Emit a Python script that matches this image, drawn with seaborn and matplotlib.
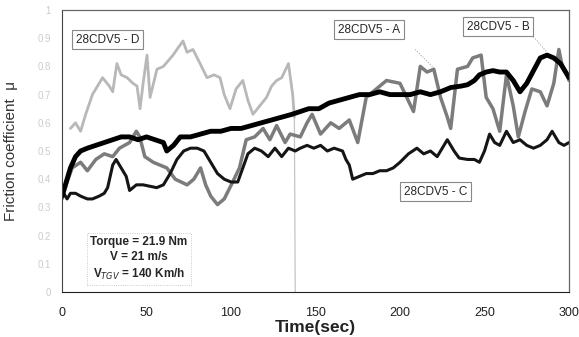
import numpy as np
import pandas as pd
import matplotlib
matplotlib.use('Agg')
import matplotlib.pyplot as plt
import seaborn as sns

# values (time in s, friction coefficient)
t_a = [0, 3, 6, 11, 15, 20, 25, 30, 34, 40, 44, 46, 49, 54, 58, 62, 67, 74, 78, 82,
       85, 88, 92, 96, 101, 105, 109, 114, 119, 123, 127, 132, 135, 141, 145, 148, 153, 159, 164, 170,
       175, 180, 186, 192, 200, 204, 208, 212, 216, 220, 224, 228, 230, 234, 240, 243, 248, 251, 255, 259,
       263, 267, 270, 274, 278, 283, 287, 291, 294, 296, 299, 300]
mu_a = [0.33, 0.39, 0.44, 0.46, 0.43, 0.47, 0.49, 0.48, 0.51, 0.53, 0.57, 0.55, 0.48, 0.46, 0.45, 0.44, 0.40, 0.38, 0.40, 0.44,
        0.38, 0.34, 0.31, 0.33, 0.39, 0.44, 0.54, 0.55, 0.58, 0.54, 0.59, 0.53, 0.56, 0.55, 0.60, 0.63, 0.56, 0.60, 0.58, 0.61,
        0.53, 0.69, 0.72, 0.75, 0.74, 0.69, 0.64, 0.80, 0.78, 0.79, 0.69, 0.62, 0.58, 0.79, 0.80, 0.83, 0.84, 0.69, 0.65, 0.57,
        0.77, 0.66, 0.55, 0.64, 0.72, 0.71, 0.66, 0.74, 0.86, 0.80, 0.77, 0.75]

t_b = [0, 2, 5, 8, 11, 15, 20, 25, 30, 35, 40, 45, 50, 55, 60, 62, 66, 70, 76, 82,
       88, 94, 100, 106, 112, 118, 124, 130, 136, 141, 146, 152, 158, 164, 170, 176, 182, 188, 194, 200,
       206, 212, 218, 224, 230, 236, 240, 244, 247, 251, 255, 259, 263, 267, 271, 275, 279, 283, 287, 291,
       295, 299, 300]
mu_b = [0.34, 0.38, 0.44, 0.48, 0.50, 0.51, 0.52, 0.53, 0.54, 0.55, 0.55, 0.54, 0.55, 0.54, 0.53, 0.50, 0.52, 0.55, 0.55, 0.56,
        0.57, 0.57, 0.58, 0.58, 0.59, 0.60, 0.61, 0.62, 0.63, 0.64, 0.65, 0.65, 0.67, 0.68, 0.69, 0.70, 0.70, 0.71, 0.70, 0.70,
        0.70, 0.71, 0.70, 0.71, 0.725, 0.73, 0.735, 0.75, 0.77, 0.78, 0.785, 0.78, 0.78, 0.75, 0.71, 0.74, 0.785, 0.83, 0.84, 0.83,
        0.81, 0.77, 0.76]

t_c = [0, 3, 5, 8, 11, 15, 18, 22, 25, 27, 30, 32, 35, 38, 40, 44, 48, 52, 56, 60,
       64, 68, 72, 76, 80, 84, 88, 92, 96, 100, 104, 107, 110, 114, 118, 122, 126, 130, 134, 138,
       141, 145, 149, 153, 157, 161, 166, 168, 170, 172, 176, 180, 184, 188, 192, 196, 200, 205, 210, 214,
       218, 222, 228, 232, 235, 240, 244, 247, 250, 253, 256, 259, 263, 267, 271, 275, 279, 283, 287, 290,
       294, 297, 300]
mu_c = [0.36, 0.33, 0.35, 0.35, 0.34, 0.33, 0.33, 0.34, 0.35, 0.37, 0.45, 0.47, 0.44, 0.41, 0.36, 0.38, 0.38, 0.375, 0.37, 0.38,
        0.42, 0.47, 0.50, 0.51, 0.51, 0.50, 0.46, 0.42, 0.40, 0.39, 0.39, 0.44, 0.49, 0.51, 0.50, 0.48, 0.51, 0.48, 0.51, 0.50,
        0.51, 0.52, 0.51, 0.52, 0.50, 0.51, 0.50, 0.47, 0.45, 0.40, 0.41, 0.42, 0.42, 0.43, 0.43, 0.44, 0.46, 0.49, 0.51, 0.49,
        0.50, 0.48, 0.54, 0.50, 0.475, 0.47, 0.47, 0.46, 0.50, 0.56, 0.53, 0.52, 0.57, 0.53, 0.54, 0.52, 0.51, 0.52, 0.54, 0.57,
        0.53, 0.52, 0.53]

t_d = [5, 8, 11, 14, 18, 24, 28, 30, 32.5, 35, 38.5, 42, 44.4, 46.2, 48, 50.3, 52.1, 56.2, 60, 65.7,
       68, 71.6, 74, 77.5, 81.7, 85.8, 90, 93.5, 96, 99.4, 103, 107, 110, 113, 117, 121, 124, 127, 130, 134,
       136.5, 137.5]
mu_d = [0.58, 0.60, 0.57, 0.63, 0.70, 0.76, 0.73, 0.71, 0.81, 0.77, 0.76, 0.74, 0.73, 0.65, 0.74, 0.84, 0.69, 0.79, 0.80, 0.84,
        0.86, 0.89, 0.85, 0.86, 0.81, 0.76, 0.77, 0.76, 0.70, 0.65, 0.72, 0.75, 0.68, 0.63, 0.66, 0.69, 0.73, 0.75, 0.76, 0.81,
        0.70, 0.62]
# D test stops: value falls to zero
t_d_stop = [137.5, 138]
mu_d_stop = [0.62, 0.0]

x_ticks = [0, 50, 100, 150, 200, 250, 300]
y_ticks = [0, 0.1, 0.2, 0.3, 0.4, 0.5, 0.6, 0.7, 0.8, 0.9, 1.0]

sns.set_style('white')
plt.rcParams['font.family'] = ['Liberation Sans', 'DejaVu Sans']

fig = plt.figure(figsize=(5.79, 3.37), dpi=100)
ax = fig.add_axes([62 / 579, 1 - 292 / 337, 507 / 579, 282 / 337])

# draw light series first, black ones on top
sns.lineplot(x=t_d_stop, y=mu_d_stop, ax=ax, color='#c4c4c4', linewidth=0.9, sort=False, estimator=None)
series = [(t_d, mu_d, '#b8b8b8', 2.0),
          (t_a, mu_a, '#7c7c7c', 2.5),
          (t_c, mu_c, '#151515', 2.2),
          (t_b, mu_b, '#000000', 3.5)]
for t, mu, col, lw in series:
    sns.lineplot(x=t, y=mu, ax=ax, color=col, linewidth=lw, sort=False, estimator=None)

ax.set_xlim(0, 300)
ax.set_ylim(0, 1.0)
ax.set_xticks(x_ticks)
ax.set_xticklabels([str(v) for v in x_ticks], fontsize=9, color='#222222')
ax.set_yticks(y_ticks)
ax.set_yticklabels(['0'] + ['%.1f' % v for v in y_ticks[1:-1]] + ['1'], fontsize=7, color='#cccccc')
ax.tick_params(axis='x', direction='in', length=3, pad=11)
ax.tick_params(axis='y', direction='in', length=2, pad=8, colors='#cccccc')

for s in ['top', 'right']:
    ax.spines[s].set_color('#666666')
    ax.spines[s].set_linewidth(0.9)
ax.spines['bottom'].set_color('#222222')
ax.spines['left'].set_color('#444444')
ax.spines['left'].set_linestyle((0, (1, 1)))

ax.set_ylabel('Friction coefficient  μ', fontsize=11, color='#333333', labelpad=14)
ax.set_xlabel('Time(sec)', fontsize=12.5, fontweight='bold', color='#222222')
ax.xaxis.label.set_va('center')
ax.xaxis.set_label_coords(0.5, -0.125)

box = dict(boxstyle='square,pad=0.3', fc='white', ec='#888888', lw=0.8)
ax.text(26.8, 0.895, '28CDV5 - D', fontsize=8.5, ha='center', va='center', bbox=box)
ax.text(181.7, 0.93, '28CDV5 - A', fontsize=8.5, ha='center', va='center', bbox=box)
ax.text(258, 0.94, '28CDV5 - B', fontsize=8.5, ha='center', va='center', bbox=box)
ax.text(221, 0.355, '28CDV5 - C', fontsize=8.5, ha='center', va='center', bbox=box)

ax.plot([209, 220], [0.86, 0.795], color='#999999', lw=0.7, ls=':')
ax.plot([279, 287], [0.905, 0.85], color='#999999', lw=0.7, ls=':')

ax.text(45.6, 0.118, 'Torque = 21.9 Nm\nV = 21 m/s\nV$_{TGV}$ = 140 Km/h',
        fontsize=8.5, fontweight='bold', ha='center', va='center', linespacing=1.35,
        bbox=dict(boxstyle='square,pad=0.3', fc='white', ec='#bbbbbb', lw=0.6, ls=':'))

fig.savefig('out.png', dpi=100, facecolor='white')
